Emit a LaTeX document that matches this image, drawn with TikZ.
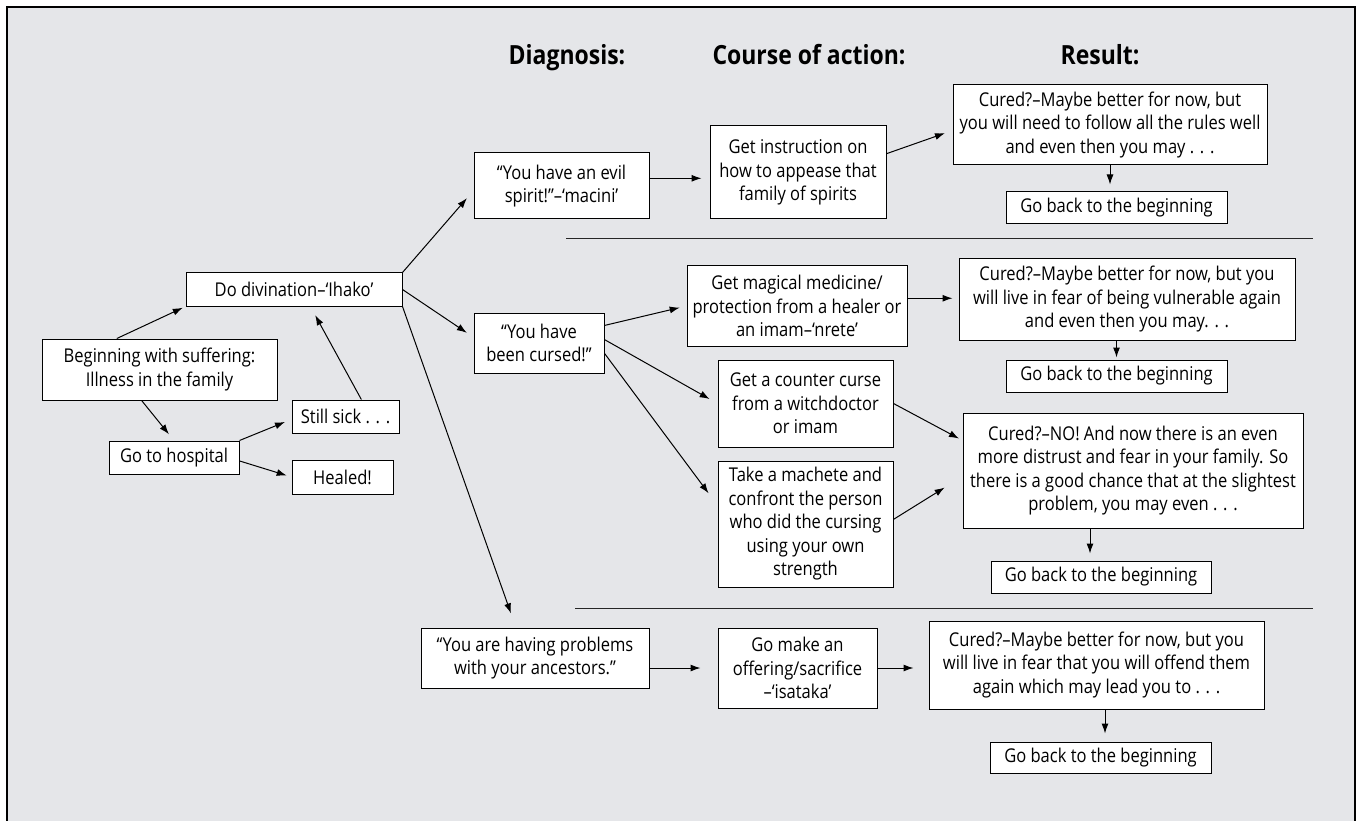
\documentclass[tikz,border=0pt]{standalone}
\usepackage{fontspec}
\setmainfont{Open Sans}[FakeStretch=0.87]
\usetikzlibrary{arrows.meta,calc}
\definecolor{panelgray}{HTML}{E5E6E9}
\tikzset{
    box/.style={draw, fill=white, line width=1pt, align=center, inner sep=1pt,
        font=\fontsize{19}{23.5}\selectfont},
    arr/.style={-{Latex[length=10pt,width=7pt]}, line width=1pt},
    head/.style={anchor=base, font=\bfseries\fontsize{26.4}{30}\selectfont},
    rule/.style={line width=1pt, black!85}
}

\begin{document}
\begin{tikzpicture}[x=1pt,y=-1pt]
    \useasboundingbox (0,0) rectangle (1358,821);
    \clip (0,0) rectangle (1358,821);
    \fill[white] (0,0) rectangle (1358,821);
    % Panel
    \fill[panelgray] (6.8,6.8) rectangle (1355,840);
    \draw[line width=2.3pt] (6.8,840) -- (6.8,6.8) -- (1355,6.8) -- (1355,840);

    % Column headings
    \node[head] (hdiag) at (567,65) {Diagnosis:};
    \node[head] (hcourse) at (809,65) {Course of action:};
    \node[head] (hres) at (1100,65) {Result:};

    % Start of the path
    \node[box, minimum width=235, minimum height=61] (begin) at (159.5,369.5) {Beginning with suffering:\\Illness in the family};
    \node[box, minimum width=216, minimum height=33] (divin) at (294,289.5) {Do divination–‘Ihako’};
    \node[box, minimum width=107, minimum height=33] (sick) at (345.5,416.5) {Still sick . . .};
    \node[box, minimum width=130, minimum height=33] (hosp) at (174,457.5) {Go to hospital};
    \node[box, minimum width=101, minimum height=34] (healed) at (342.5,477) {Healed!};

    % Diagnosis
    \node[box, minimum width=175, minimum height=66] (evil) at (561.5,186) {“You have an evil\\spirit!”–‘macini’};
    \node[box, minimum width=130, minimum height=60] (cursed) at (539,343) {“You have\\been cursed!”};
    \node[box, minimum width=228, minimum height=60] (ances) at (535,658) {“You are having problems\\with your ancestors.”};

    % Course of action
    \node[box, minimum width=176, minimum height=93] (instr) at (798,172.5) {Get instruction on\\how to appease that\\family of spirits};
    \node[box, minimum width=220, minimum height=80] (magic) at (797,306) {Get magical medicine/\\protection from a healer or\\an imam–‘nrete’};
    \node[box, minimum width=175, minimum height=87] (counter) at (805.5,403.5) {Get a counter curse\\from a witchdoctor\\or imam};
    \node[box, minimum width=175, minimum height=126] (machete) at (805.5,524) {Take a machete and\\confront the person\\who did the cursing\\using your own\\strength};
    \node[box, minimum width=159, minimum height=80] (offer) at (797.5,668) {Go make an\\offering/sacrifice\\–‘isataka’};

    % Result
    \node[box, minimum width=314, minimum height=80] (cured1) at (1110,125) {Cured?–Maybe better for now, but\\you will need to follow all the rules well\\and even then you may . . .};
    \node[box, minimum width=221, minimum height=32] (back1) at (1116.5,208) {Go back to the beginning};
    \node[box, minimum width=336, minimum height=81] (cured2) at (1127,299.5) {Cured?–Maybe better for now, but you\\will live in fear of being vulnerable again\\and even then you may. . .};
    \node[box, minimum width=221, minimum height=32] (back2) at (1116.5,376) {Go back to the beginning};
    \node[box, minimum width=340, minimum height=115] (cured3) at (1133,470.5) {Cured?–NO! And now there is an even\\more distrust and fear in your family. So\\there is a good chance that at the slightest\\problem, you may even . . .};
    \node[box, minimum width=220, minimum height=32] (back3) at (1101,577) {Go back to the beginning};
    \node[box, minimum width=335, minimum height=88] (cured4) at (1096.5,665) {Cured?–Maybe better for now, but you\\will live in fear that you will offend them\\again which may lead you to . . .};
    \node[box, minimum width=221, minimum height=31] (back4) at (1100.5,757.5) {Go back to the beginning};

    % Separators
    \coordinate (s1a) at (566,239);
    \coordinate (s1b) at (1313,239);
    \coordinate (s2a) at (575,608);
    \coordinate (s2b) at (1313,608);
    \draw[rule] (s1a) -- (s1b);
    \draw[rule] (s2a) -- (s2b);

    % Connectors
    \draw[arr, shorten >=3pt] (begin.144) -- (divin.south west);
    \draw[arr, shorten >=8pt] (begin.240) -- (hosp.north);
    \draw[arr, shorten >=7pt] (hosp.north east) -- (sick.183);
    \draw[arr, shorten >=5pt] (hosp.357) -- (healed.west);
    \draw[arr, shorten >=10pt] (sick.47) -- (divin.314);

    \draw[arr, shorten >=10pt] (divin.north east) -- (evil.183);
    \draw[arr, shorten >=8pt] (divin.east) -- (cursed.175);
    \draw[arr, shorten >=15pt] (divin.south east) -- (ances.122);

    \draw[arr, shorten >=8pt] (evil.5) -- (evil.5 -| instr.west);
    \draw[arr, shorten >=8pt] (instr.12) -- (cured1.182);
    \draw[arr, shorten >=7pt] (cured1.south) -- (cured1.south |- back1.north);

    \draw[arr, shorten >=7pt] (cursed.15) -- (magic.west);
    \draw[arr, shorten >=9pt] (cursed.3) -- (counter.west);
    \draw[arr, shorten >=15pt] (cursed.351) -- (machete.168);
    \draw[arr, shorten >=6pt] (magic.4) -- (magic.4 -| cured2.west);
    \draw[arr, shorten >=2pt] (back2.north |- cured2.south) -- (back2.north);

    \draw[arr, shorten >=4pt] (counter.east) -- (cured3.170);
    \draw[arr, shorten >=21pt] (machete.3) -- (cured3.182);
    \coordinate (b3) at ($(back3.north)+(-11,0)$);
    \draw[arr, shorten >=7pt] (b3 |- cured3.south) -- (b3);

    \draw[arr, shorten >=17pt] (ances.355) -- (ances.355 -| offer.west);
    \draw[arr, shorten >=15pt] (offer.east) -- (offer.east -| cured4.west);
    \coordinate (b4) at ($(back4.north)+(4.5,0)$);
    \draw[arr, shorten >=8pt] (b4 |- cured4.south) -- (b4);
\end{tikzpicture}
\end{document}
